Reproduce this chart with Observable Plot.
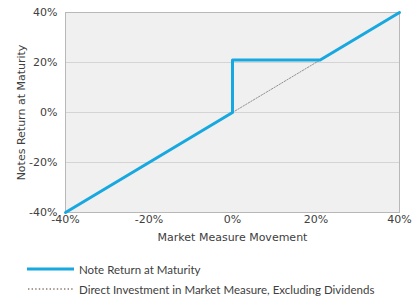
<!DOCTYPE html>
<html><head><meta charset="utf-8">
<script src="https://cdn.jsdelivr.net/npm/d3@7"></script>
<script src="https://cdn.jsdelivr.net/npm/@observablehq/plot@0.6"></script>
<style>
body{margin:0;background:#fff;font-family:"DejaVu Sans",sans-serif;}
#legend{font-family:Lato,"Open Sans",sans-serif;font-size:11.5px;color:#404040;margin-left:27px;margin-top:14px;}
.row{display:flex;align-items:center;height:20px;}
.sw{width:47px;height:4px;margin-right:5px;display:block;}
</style></head>
<body>
<div id="chart"></div>
<div id="legend">
<div class="row"><svg class="sw"><line x1="0" x2="47" y1="2" y2="2" stroke="#17a8e0" stroke-width="3"/></svg>Note Return at Maturity</div>
<div class="row"><svg class="sw"><line x1="1" x2="47" y1="2" y2="2" stroke="#8c7b70" stroke-width="1.4" stroke-dasharray="1.4,2.2"/></svg>Direct Investment in Market Measure, Excluding Dividends</div>
</div>
<script>
const marketMoves = [-40, 0, 0, 21, 40];
const noteReturns = [-40, 0, 21, 21, 40];
const directMoves = [-40, 40];
const directReturns = [-40, 40];
const xTicks = [-40, -20, 0, 20, 40];
const yTicks = [-40, -20, 0, 20, 40];
const gridValues = [-20, 0, 20];

const noteData = marketMoves.map((m, i) => ({m, r: noteReturns[i]}));
const directData = directMoves.map((m, i) => ({m, r: directReturns[i]}));

const chart = Plot.plot({
  width: 416, height: 245,
  marginLeft: 65, marginRight: 17, marginTop: 12, marginBottom: 33,
  style: {fontFamily: "'DejaVu Sans', sans-serif", fontSize: "11px", color: "#404040", background: "#fff"},
  x: {domain: [-40, 40], ticks: xTicks, tickFormat: d => d + "%", tickSize: 0, tickPadding: 3,
      label: "Market Measure Movement", labelAnchor: "center", labelArrow: "none", labelOffset: 28},
  y: {domain: [-40, 40], ticks: yTicks, tickFormat: d => d + "%", tickSize: 0, tickPadding: 8,
      label: "Notes Return at Maturity", labelAnchor: "center", labelArrow: "none", labelOffset: 48},
  marks: [
    Plot.frame({fill: "#f0f0f0", stroke: "none"}),
    Plot.ruleY(gridValues, {stroke: "#d4d4d4", strokeWidth: 1}),
    Plot.frame({stroke: "#b8b8b8", strokeWidth: 1}),
    Plot.line(directData, {x: "m", y: "r", stroke: "#777", strokeWidth: 0.8, strokeDasharray: "1.5,1.5"}),
    Plot.line(noteData, {x: "m", y: "r", stroke: "#17a8e0", strokeWidth: 3})
  ]
});
document.getElementById("chart").appendChild(chart);
</script>
</body></html>
